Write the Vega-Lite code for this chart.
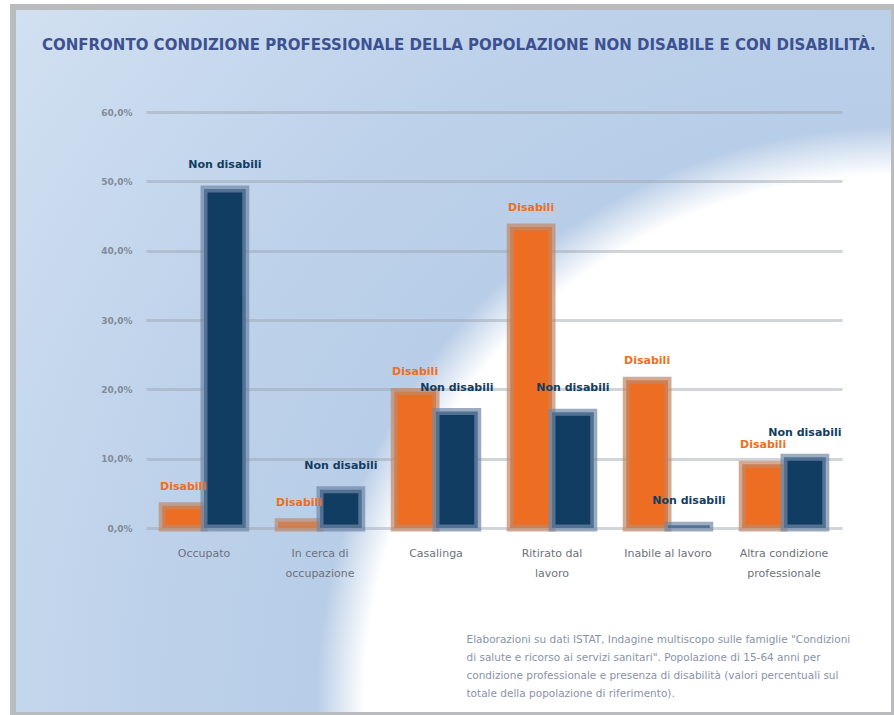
{
  "$schema": "https://vega.github.io/schema/vega-lite/v6.json",
  "autosize": {"type": "none"},
  "width": 881,
  "height": 708,
  "padding": {"left": 13, "top": 7, "right": 0, "bottom": 0},
  "background": "#ffffff",
  "view": {
    "stroke": "#b9bbbe",
    "strokeWidth": 6,
    "fill": {
      "gradient": "radial",
      "x1": 1.0, "y1": 0.89, "r1": 0,
      "x2": 1.0, "y2": 0.89, "r2": 1.33,
      "stops": [
        {"offset": 0, "color": "#ffffff"},
        {"offset": 0.452, "color": "#ffffff"},
        {"offset": 0.493, "color": "#b8cde7"},
        {"offset": 0.64, "color": "#bdd1ea"},
        {"offset": 1, "color": "#d4e3f2"}
      ]
    }
  },
  "title": {
    "text": "CONFRONTO CONDIZIONE PROFESSIONALE DELLA POPOLAZIONE NON DISABILE E CON DISABILITÀ.",
    "anchor": "start",
    "frame": "group",
    "orient": "top",
    "offset": -53,
    "dx": 29,
    "baseline": "middle",
    "font": "DejaVu Sans",
    "fontSize": 15,
    "fontWeight": "bold",
    "limit": 0,
    "color": "#3d5191"
  },
  "data": {
    "values": [
      {"categoria": "Occupato", "serie": "Disabili", "valore": 3.2},
      {"categoria": "Occupato", "serie": "Non disabili", "valore": 48.9},
      {"categoria": "In cerca di occupazione", "serie": "Disabili", "valore": 0.9},
      {"categoria": "In cerca di occupazione", "serie": "Non disabili", "valore": 5.5},
      {"categoria": "Casalinga", "serie": "Disabili", "valore": 19.7},
      {"categoria": "Casalinga", "serie": "Non disabili", "valore": 16.8},
      {"categoria": "Ritirato dal lavoro", "serie": "Disabili", "valore": 43.4},
      {"categoria": "Ritirato dal lavoro", "serie": "Non disabili", "valore": 16.7},
      {"categoria": "Inabile al lavoro", "serie": "Disabili", "valore": 21.3},
      {"categoria": "Inabile al lavoro", "serie": "Non disabili", "valore": 0.4},
      {"categoria": "Altra condizione professionale", "serie": "Disabili", "valore": 9.2},
      {"categoria": "Altra condizione professionale", "serie": "Non disabili", "valore": 10.2}
    ]
  },
  "encoding": {
    "x": {
      "field": "categoria",
      "type": "nominal",
      "sort": ["Occupato", "In cerca di occupazione", "Casalinga", "Ritirato dal lavoro", "Inabile al lavoro", "Altra condizione professionale"],
      "scale": {"range": [133, 829], "paddingInner": 0.28, "paddingOuter": 0.14},
      "axis": {
        "orient": "bottom",
        "offset": -187,
        "domain": false,
        "ticks": false,
        "grid": false,
        "labelAngle": 0,
        "labelPadding": 19,
        "labelBaseline": "top",
        "labelLineHeight": 20,
        "labelFont": "DejaVu Sans",
        "labelFontSize": 11,
        "labelColor": "#6d727a",
        "labelExpr": "datum.label == 'In cerca di occupazione' ? ['In cerca di', 'occupazione'] : datum.label == 'Ritirato dal lavoro' ? ['Ritirato dal', 'lavoro'] : datum.label == 'Altra condizione professionale' ? ['Altra condizione', 'professionale'] : datum.label",
        "title": [
          "Elaborazioni su dati ISTAT, Indagine multiscopo sulle famiglie \"Condizioni",
          "di salute e ricorso ai servizi sanitari\". Popolazione di 15-64 anni per",
          "condizione professionale e presenza di disabilità (valori percentuali sul",
          "totale della popolazione di riferimento)."
        ],
        "titleX": 453,
        "titleY": 106,
        "titleAlign": "left",
        "titleBaseline": "top",
        "titleAngle": 0,
        "titleLimit": 0,
        "titleFont": "DejaVu Sans",
        "titleFontSize": 10.5,
        "titleFontWeight": "normal",
        "titleLineHeight": 18,
        "titleColor": "#8a93a8"
      }
    },
    "y": {
      "field": "valore",
      "type": "quantitative",
      "scale": {"domain": [0, 60], "range": [521, 105], "nice": false},
      "axis": {
        "orient": "left",
        "offset": -133,
        "values": [0, 10, 20, 30, 40, 50, 60],
        "domain": false,
        "ticks": false,
        "labelPadding": 14,
        "labelFont": "DejaVu Sans",
        "labelFontSize": 9,
        "labelFontWeight": "bold",
        "labelColor": "#808b98",
        "labelExpr": "replace(format(datum.value, '.1f'), '.', ',') + '%'",
        "grid": true,
        "gridColor": "#98a2ad",
        "gridOpacity": 0.45,
        "gridWidth": 3,
        "title": null
      }
    },
    "xOffset": {"field": "serie", "type": "nominal", "sort": ["Disabili", "Non disabili"]},
    "color": {
      "field": "serie",
      "type": "nominal",
      "scale": {"domain": ["Disabili", "Non disabili"], "range": ["#ed6e22", "#123d62"]},
      "legend": null
    }
  },
  "layer": [
    {
      "mark": {"type": "bar", "strokeWidth": 7, "strokeOpacity": 0.7},
      "encoding": {
        "stroke": {
          "field": "serie",
          "type": "nominal",
          "scale": {"domain": ["Disabili", "Non disabili"], "range": ["#c08868", "#6f87a8"]},
          "legend": null
        }
      }
    },
    {
      "transform": [{"filter": "datum.serie == 'Disabili'"}],
      "mark": {"type": "text", "font": "DejaVu Sans", "fontSize": 11, "fontWeight": "bold", "baseline": "middle", "dy": -19},
      "encoding": {"text": {"field": "serie", "type": "nominal"}}
    },
    {
      "transform": [{"filter": "datum.serie == 'Non disabili'"}],
      "mark": {"type": "text", "font": "DejaVu Sans", "fontSize": 11, "fontWeight": "bold", "baseline": "middle", "dy": -24},
      "encoding": {"text": {"field": "serie", "type": "nominal"}}
    }
  ]
}
